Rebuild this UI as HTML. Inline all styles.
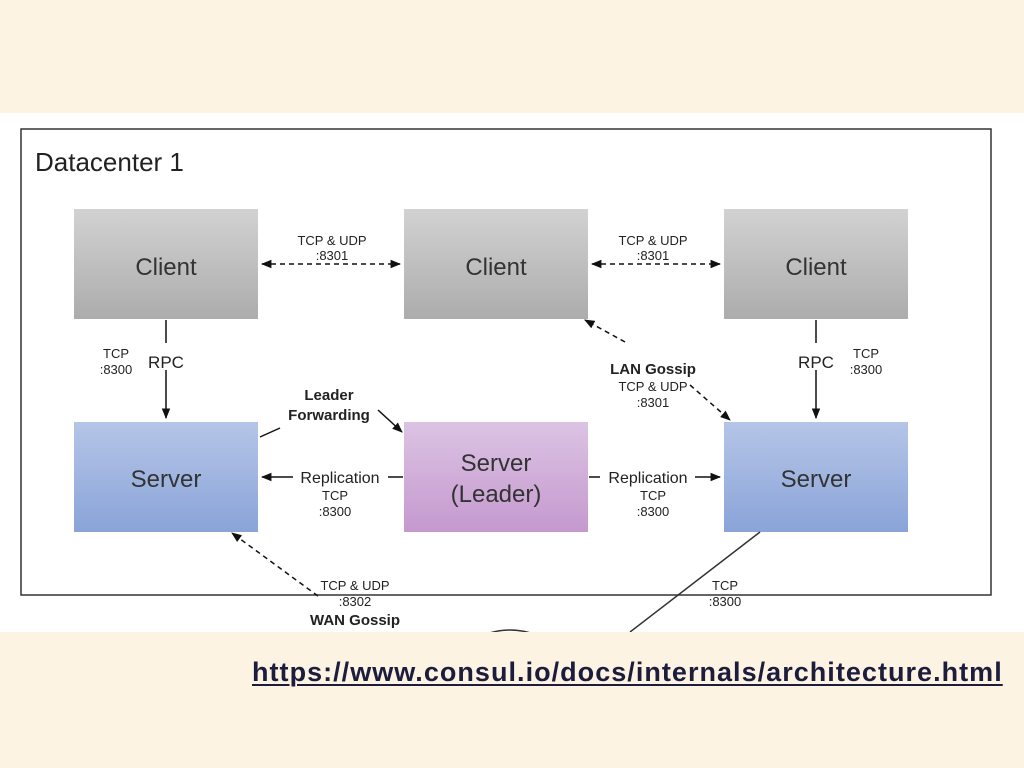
<!DOCTYPE html>
<html><head><style>
body{margin:0;width:1024px;height:768px;background:#fdf3e2;position:relative;overflow:hidden;font-family:"Liberation Sans",Arial,sans-serif}
.img{position:absolute;left:0;top:113px;width:1024px;height:519px;background:#fff}
.url{position:absolute;left:252px;top:657px;font-size:27px;font-weight:bold;color:#1c1c3c;text-decoration:underline;text-decoration-thickness:2px;text-underline-offset:3px;letter-spacing:1.03px;white-space:nowrap}
</style></head><body>
<div class="img"></div>
<svg width="1024" height="768" style="position:absolute;left:0;top:0">
<defs>
<linearGradient id="g" x1="0" y1="0" x2="0" y2="1"><stop offset="0" stop-color="#d2d2d2"/><stop offset="1" stop-color="#acacac"/></linearGradient>
<linearGradient id="b" x1="0" y1="0" x2="0" y2="1"><stop offset="0" stop-color="#b5c5e8"/><stop offset="1" stop-color="#8aa4d8"/></linearGradient>
<linearGradient id="p" x1="0" y1="0" x2="0" y2="1"><stop offset="0" stop-color="#dcc3e3"/><stop offset="1" stop-color="#c599cf"/></linearGradient>
<marker id="a" viewBox="0 0 10 10" refX="9" refY="5" markerWidth="7" markerHeight="7" orient="auto-start-reverse"><path d="M0,1 L10,5 L0,9 z" fill="#111"/></marker>
<clipPath id="c"><rect x="0" y="113" width="1024" height="519"/></clipPath>
</defs>
<rect x="21" y="129" width="970" height="466" fill="none" stroke="#333" stroke-width="1.5"/>
<text x="35" y="171" font-size="26" fill="#222">Datacenter 1</text>
<g font-size="24" fill="#333" text-anchor="middle">
<rect x="74" y="209" width="184" height="110" fill="url(#g)"/><text x="166" y="275">Client</text>
<rect x="404" y="209" width="184" height="110" fill="url(#g)"/><text x="496" y="275">Client</text>
<rect x="724" y="209" width="184" height="110" fill="url(#g)"/><text x="816" y="275">Client</text>
<rect x="74" y="422" width="184" height="110" fill="url(#b)"/><text x="166" y="487">Server</text>
<rect x="724" y="422" width="184" height="110" fill="url(#b)"/><text x="816" y="487">Server</text>
<rect x="404" y="422" width="184" height="110" fill="url(#p)"/><text x="496" y="471">Server</text><text x="496" y="502">(Leader)</text>
</g>
<g stroke="#111" stroke-width="1.5" fill="none">
<line x1="262" y1="264" x2="400" y2="264" stroke-dasharray="5,4" marker-start="url(#a)" marker-end="url(#a)"/>
<line x1="592" y1="264" x2="720" y2="264" stroke-dasharray="5,4" marker-start="url(#a)" marker-end="url(#a)"/>
<line x1="166" y1="320" x2="166" y2="343"/>
<line x1="166" y1="370" x2="166" y2="418" marker-end="url(#a)"/>
<line x1="816" y1="320" x2="816" y2="343"/>
<line x1="816" y1="370" x2="816" y2="418" marker-end="url(#a)"/>
<line x1="260" y1="437" x2="280" y2="428"/>
<line x1="378" y1="410" x2="402" y2="432" marker-end="url(#a)"/>
<line x1="293" y1="477" x2="262" y2="477" marker-end="url(#a)"/>
<line x1="388" y1="477" x2="403" y2="477"/>
<line x1="589" y1="477" x2="600" y2="477"/>
<line x1="695" y1="477" x2="720" y2="477" marker-end="url(#a)"/>
<line x1="625" y1="342" x2="585" y2="320" stroke-dasharray="5,4" marker-end="url(#a)"/>
<line x1="690" y1="385" x2="730" y2="420" stroke-dasharray="5,4" marker-end="url(#a)"/>
<line x1="318" y1="596" x2="232" y2="533" stroke-dasharray="5,4" marker-end="url(#a)"/>
<g clip-path="url(#c)">
<line x1="760" y1="532" x2="630" y2="632" stroke="#333"/>
<ellipse cx="510" cy="680" rx="60" ry="50" stroke="#333"/>
</g>
</g>
<g font-size="13" fill="#222" text-anchor="middle">
<text x="332" y="245">TCP &amp; UDP</text><text x="332" y="260">:8301</text>
<text x="653" y="245">TCP &amp; UDP</text><text x="653" y="260">:8301</text>
<text x="116" y="358">TCP</text><text x="116" y="374">:8300</text>
<text x="866" y="358">TCP</text><text x="866" y="374">:8300</text>
<text x="166" y="368" font-size="17">RPC</text>
<text x="816" y="368" font-size="17">RPC</text>
<text x="329" y="400" font-size="15" font-weight="bold">Leader</text>
<text x="329" y="420" font-size="15" font-weight="bold">Forwarding</text>
<text x="340" y="483" font-size="16">Replication</text><text x="335" y="500">TCP</text><text x="335" y="516">:8300</text>
<text x="648" y="483" font-size="16">Replication</text><text x="653" y="500">TCP</text><text x="653" y="516">:8300</text>
<text x="653" y="374" font-size="15" font-weight="bold">LAN Gossip</text>
<text x="653" y="391">TCP &amp; UDP</text><text x="653" y="407">:8301</text>
<text x="355" y="590">TCP &amp; UDP</text><text x="355" y="606">:8302</text>
<text x="355" y="625" font-size="15" font-weight="bold">WAN Gossip</text>
<text x="725" y="590">TCP</text><text x="725" y="606">:8300</text>
</g>
</svg>
<div class="url">https://www.consul.io/docs/internals/architecture.html</div>
</body></html>
